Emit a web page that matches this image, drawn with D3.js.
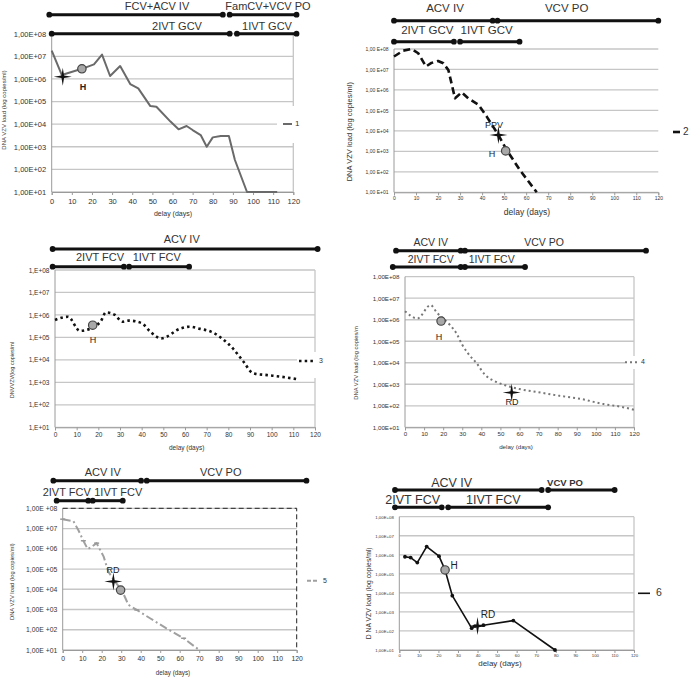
<!DOCTYPE html>
<html><head><meta charset="utf-8">
<script src="https://cdn.jsdelivr.net/npm/d3@7"></script>
<style>body{margin:0;background:#fff}svg{display:block}text{font-family:"Liberation Sans",Arial,sans-serif}</style>
</head><body>
<script>
// ---------- shared axis data ----------
const xTicks = [0,10,20,30,40,50,60,70,80,90,100,110,120];
const yTicks = [1e1,1e2,1e3,1e4,1e5,1e6,1e7,1e8];
const yLabelsA = ["1,00E+01","1,00E+02","1,00E+03","1,00E+04","1,00E+05","1,00E+06","1,00E+07","1,00E+08"];
const yLabelsB = ["1,00 E+01","1,00 E+02","1,00 E+03","1,00 E+04","1,00 E+05","1,00 E+06","1,00 E+07","1,00 E+08"];
const yLabelsC = ["1,E+01","1,E+02","1,E+03","1,E+04","1,E+05","1,E+06","1,E+07","1,E+08"];
const yLabelsD = ["1,00E +01","1,00E +02","1,00E +03","1,00E +04","1,00E +05","1,00E +06","1,00E +07","1,00E +08"];
const seriesNames = ["1","2","3","4","5","6"];

// ---------- patient 1 ----------
const p1Days = [0,5,15,21,25,29,34,39,43,49,52,59,63,67,70,74,77,80,84,88,91,97,112];
const p1Load = [1.8e7,1.5e6,2.8e6,4.4e6,1.2e7,1.35e6,3.7e6,5.9e5,3.8e5,6.3e4,5.9e4,1.3e4,5.9e3,8.3e3,5.5e3,3.3e3,1.0e3,2.6e3,3.0e3,3.0e3,2.6e2,10,10];
const p1Bars = [["FCV+ACV IV",0,-1.2,85],["FamCV+VCV PO",0,88.4,121.6],["2IVT GCV",1,0,88.4],["1IVT GCV",1,92,121.6]];
const p1Events = [["star",5.5,1.26e6,""],["circle",15,2.8e6,"H"]];

// ---------- patient 2 ----------
const p2Days = [0,4.2,8,11,14.5,17,20,22.4,24.7,27.7,30.7,33.7,38.3,42.1,47.4,51.1,57.2,64.8];
const p2Load = [4.3e7,8.3e7,1e8,6.2e7,1.4e7,2.1e7,2.6e7,2.0e7,9.3e6,3.9e5,7.6e5,3.9e5,1.9e5,5.0e4,6.3e3,1.2e3,1.2e2,10];
const p2Bars = [["ACV IV",0,0,44.8],["VCV PO",0,47,120],["2IVT GCV",1,0,27.2],["1IVT GCV",1,30,57]];
const p2Events = [["star",47.4,6.3e3,"PPV"],["circle",50.7,1.05e3,"H"]];

// ---------- patient 3 ----------
const p3Days = [0,6,11.5,14,21,23.5,27.7,31,34,40,44,49,58,62,67,72,77,82,87,91.5,98,104,111.5];
const p3Load = [6.0e5,8.3e5,1.95e5,2.1e5,5.0e5,1.3e6,1.0e6,5.0e5,5.6e5,4.3e5,1.8e5,9.1e4,2.5e5,3.0e5,2.4e5,1.8e5,9.1e4,3.3e4,8.3e3,2.5e3,2.1e3,1.8e3,1.4e3];
const p3Bars = [["ACV IV",0,-1.1,121.2],["2IVT FCV",1,-1.1,31.8],["1IVT FCV",1,34.2,61.9]];
const p3Events = [["circle",17.4,3.5e5,"H"]];

// ---------- patient 4 ----------
const p4Days = [0,6.5,13.4,16.6,23.6,27,30,33,37.6,42,47,53,60,71,81,92,104,113,120];
const p4Load = [2.5e6,1.15e6,4.8e6,2.2e6,5.6e5,2.3e5,6.8e4,2.75e4,9.3e3,2.7e3,1.4e3,8.7e2,6.0e2,4.1e2,2.9e2,2.1e2,1.2e2,91,65];
const p4Bars = [["ACV IV",0,-4.7,29.2],["VCV PO",0,31.4,126.3],["2IVT FCV",1,-6.4,29.2],["1IVT FCV",1,31.4,62.9]];
const p4Events = [["circle",18.9,8.7e5,"H"],["star",55.9,4.1e2,"RD"]];

// ---------- patient 5 ----------
const p5Days = [0,5.5,8,10.6,12.8,14.4,17.4,21,23.4,26.8,30.3,33.7,38,45,53,62,70];
const p5Load = [2.9e7,2.3e7,8.5e6,2.5e6,9.8e5,1.15e6,1.9e6,4.1e5,7.4e4,2.4e4,9.1e3,1.7e3,9.5e2,3.6e2,1.2e2,38,10];
const p5Bars = [["ACV IV",0,-4.8,40.2],["VCV PO",0,43.1,125],["2IVT FCV",1,-3.1,13.1],["1IVT FCV",1,15.4,30.8]];
const p5Events = [["star",26,2.4e4,"RD"],["circle",29.7,9.1e3,""]];

// ---------- patient 6 ----------
const p6Days = [2.9,5.8,9.2,14,20.3,23.4,27.1,37,38.7,43,58.3,79.6];
const p6Load = [7.9e5,7.1e5,3.9e5,2.7e6,8.5e5,1.6e5,7.1e3,1.4e2,1.8e2,2.0e2,3.5e2,10];
const p6Bars = [["ACV IV",0,-2.2,72.8],["VCV PO",0,76.1,110.1],["2IVT FCV",1,-2.2,21.7],["1IVT FCV",1,25,76.1]];
const p6Events = [["circle",23.4,1.6e5,"H"],["star",40,1.8e2,"RD"]];

// ---------- layout ----------
const W = 691, H = 678;
const svg = d3.select("body").append("svg").attr("width",W).attr("height",H);

const panels = [
 {days:p1Days, load:p1Load, bars:p1Bars, events:p1Events, name:seriesNames[0], ylab:yLabelsA,
  x0:51.7,x1:293.3,yTop:33.7,yBot:192, rowY:[14.7,33.7], barLabels:[[157,7.5],[268,6.8],[177,27],[267,27]], barFont:11,
  tickFont:7.5, xLabY:203.5, xTitle:[173,214.5,7], yTitle:"DNA VZV load (log copies/ml)", yTitlePos:[4,110,6],
  line:{stroke:"#6a6a6a",w:2,dash:null,curve:d3.curveLinear},
  legend:{rect:[277,106,22,37],lx:[283,292],ly:124,tx:295,font:8}, rightBorder:true,
  evLabels:{H:[83,88],"":[0,0]}},
 {days:p2Days, load:p2Load, bars:p2Bars, events:p2Events, name:seriesNames[1], ylab:yLabelsB,
  x0:394,x1:658.3,yTop:49,yBot:192.3, rowY:[20.7,41.7], barLabels:[[445,8.5],[566.7,8.5],[427.3,31],[486.7,31]], barFont:11.5,
  tickFont:5, xLabY:200, xTitle:[527,213,8.5], yTitle:"DNA VZV load (log copies/ml)", yTitlePos:[350,131.7,7.5],
  line:{stroke:"#111",w:2.6,dash:"7,4",curve:d3.curveLinear},
  legend:{rect:[668,125,22,14],lx:[673,681],ly:132,tx:683,font:10}, rightBorder:false,
  evLabels:{PPV:[494,126],H:[492,155]}},
 {days:p3Days, load:p3Load, bars:p3Bars, events:p3Events, name:seriesNames[2], ylab:yLabelsC,
  x0:55,x1:315,yTop:270,yBot:427.3, rowY:[249,266.7], barLabels:[[181.7,240],[100,258.5],[156.7,258.5]], barFont:11,
  tickFont:6.5, xLabY:437, xTitle:[186.7,448.5,6.5], yTitle:"DNVVZV(log copies/ml", yTitlePos:[12.7,370,5.5],
  line:{stroke:"#111",w:2.6,dash:"2.5,3.2",curve:d3.curveMonotoneX},
  legend:{rect:[297,352,32,26],lx:[299,315],ly:361,tx:319,font:7}, rightBorder:true,
  evLabels:{H:[93,341]}},
 {days:p4Days, load:p4Load, bars:p4Bars, events:p4Events, name:seriesNames[3], ylab:yLabelsA,
  x0:405,x1:634,yTop:276.7,yBot:427.3, rowY:[250.7,267], barLabels:[[430.7,243.5],[544,243.5],[430.7,260],[491.7,260]], barFont:10.5,
  tickFont:6.2, xLabY:436, xTitle:[516,447,6.2], yTitle:"DNA VZV load (log copies/m", yTitlePos:[356,363,5.8],
  line:{stroke:"#777",w:2,dash:"2,3",curve:d3.curveMonotoneX},
  legend:{rect:[625,356,28,13],lx:[625,637],ly:362.3,tx:641,font:7}, rightBorder:true,
  evLabels:{H:[439,338],RD:[512,403]}},
 {days:p5Days, load:p5Load, bars:p5Bars, events:p5Events, name:seriesNames[4], ylab:yLabelsD,
  x0:62.7,x1:296.7,yTop:508.3,yBot:650, rowY:[480.7,500.7], barLabels:[[102.7,473.5],[220.7,473.5],[66.7,493.5],[118.3,493.5]], barFont:11,
  tickFont:6.8, xLabY:660.5, xTitle:[173,673.5,6.3], yTitle:"DNA VZV load (log copies/ml)", yTitlePos:[12.7,581.7,5.8],
  line:{stroke:"#a0a0a0",w:2,dash:"8,3,2,3",curve:d3.curveLinear},
  legend:{rect:[303,574,28,14],lx:[307,318],ly:580.7,tx:323,font:7}, rightBorder:false, dashedFrame:true,
  evLabels:{RD:[113,571]}},
 {days:p6Days, load:p6Load, bars:p6Bars, events:p6Events, name:seriesNames[5], ylab:yLabelsA,
  x0:399.3,x1:634,yTop:516.7,yBot:650, rowY:[490,507.3], barLabels:[[451.7,483.5],[565,483.5],[412.7,500.5],[493.3,500.5]], barFont:12.5,
  tickFont:4.3, xLabY:656.5, xTitle:[500,664,8], yTitle:"D NA VZV load (log copies/ml)", yTitlePos:[369.3,593.3,6.8],
  line:{stroke:"#111",w:1.6,dash:null,curve:d3.curveLinear}, dots:true,
  legend:{rect:[636,586,30,15],lx:[638,650],ly:593.3,tx:656,font:10.5}, rightBorder:true,
  evLabels:{H:[454,566],RD:[488,615]}, boldVCV:true}
];

function starPath(cx, cy, R, r){
  const pts=[];
  for(let i=0;i<8;i++){
    const a = i*Math.PI/4 - Math.PI/2;
    const rad = (i%2===0)? R : r;
    pts.push([cx+rad*Math.cos(a), cy+rad*Math.sin(a)]);
  }
  return "M"+pts.map(p=>p.join(",")).join("L")+"Z";
}

panels.forEach(p=>{
  const g = svg.append("g");
  const x = d3.scaleLinear().domain([0,120]).range([p.x0,p.x1]);
  const y = d3.scaleLog().domain([1e1,1e8]).range([p.yBot,p.yTop]);

  // grid
  g.selectAll("line.grid").data(yTicks).enter().append("line")
    .attr("x1",p.x0).attr("x2",p.x1).attr("y1",d=>y(d)).attr("y2",d=>y(d))
    .attr("stroke","#c6c6c6").attr("stroke-width",1.3);
  // left axis
  g.append("line").attr("x1",p.x0).attr("x2",p.x0).attr("y1",p.yTop).attr("y2",p.yBot)
    .attr("stroke","#9a9a9a").attr("stroke-width",1);
  if(p.rightBorder){
    g.append("line").attr("x1",p.x1).attr("x2",p.x1).attr("y1",p.yTop).attr("y2",p.yBot)
      .attr("stroke","#c6c6c6").attr("stroke-width",1.3);
  }
  if(p.dashedFrame){
    g.append("path").attr("d",`M${p.x0},${p.yTop}H${p.x1}V${p.yBot}`).attr("fill","none")
      .attr("stroke","#222").attr("stroke-width",1).attr("stroke-dasharray","5,3");
  }
  // legend cover
  g.append("rect").attr("x",p.legend.rect[0]).attr("y",p.legend.rect[1]).attr("width",p.legend.rect[2]).attr("height",p.legend.rect[3]).attr("fill","#fff");

  // x axis
  const xa = g.append("g").attr("transform",`translate(0,${p.yBot})`)
    .call(d3.axisBottom(x).tickValues(xTicks).tickSize(3).tickPadding(p.xLabY-p.yBot-3-p.tickFont*0.7));
  xa.select(".domain").attr("stroke","#9a9a9a");
  xa.selectAll(".tick line").attr("stroke","#9a9a9a");
  xa.selectAll(".tick text").attr("font-size",p.tickFont).attr("fill","#333").attr("font-family","Liberation Sans, Arial, sans-serif");
  // y axis labels
  const ya = g.append("g").attr("transform",`translate(${p.x0},0)`)
    .call(d3.axisLeft(y).tickValues(yTicks).tickFormat((d,i)=>p.ylab[i]).tickSize(0).tickPadding(5.5));
  ya.select(".domain").remove();
  ya.selectAll(".tick text").attr("font-size",p.tickFont).attr("fill","#333").attr("font-family","Liberation Sans, Arial, sans-serif");

  // titles
  g.append("text").attr("x",p.xTitle[0]).attr("y",p.xTitle[1]).attr("text-anchor","middle")
    .attr("dominant-baseline","middle").attr("font-size",p.xTitle[2]).attr("fill","#333").text("delay (days)");
  g.append("text").attr("transform",`translate(${p.yTitlePos[0]},${p.yTitlePos[1]}) rotate(-90)`)
    .attr("text-anchor","middle").attr("dominant-baseline","middle").attr("font-size",p.yTitlePos[2]).attr("fill","#333").text(p.yTitle);

  // series line
  const pts = p.days.map((d,i)=>({day:d, load:p.load[i]}));
  const line = d3.line().x(d=>x(d.day)).y(d=>y(d.load)).curve(p.line.curve);
  g.append("path").datum(pts).attr("d",line).attr("fill","none")
    .attr("stroke",p.line.stroke).attr("stroke-width",p.line.w)
    .attr("stroke-dasharray",p.line.dash).attr("stroke-linejoin","round");
  if(p.dots){
    g.selectAll("circle.pt").data(pts).enter().append("circle")
      .attr("cx",d=>x(d.day)).attr("cy",d=>y(d.load)).attr("r",1.9).attr("fill","#111");
  }
  if(p.name==="5"){
    g.selectAll("line.mk").data(pts.filter((d,i)=>i%3===0)).enter().append("line")
      .attr("x1",d=>x(d.day)-2.5).attr("x2",d=>x(d.day)+2.5).attr("y1",d=>y(d.load)).attr("y2",d=>y(d.load))
      .attr("stroke","#999").attr("stroke-width",1.5);
  }

  // legend
  g.append("line").attr("x1",p.legend.lx[0]).attr("x2",p.legend.lx[1]).attr("y1",p.legend.ly).attr("y2",p.legend.ly)
    .attr("stroke",p.line.stroke).attr("stroke-width",p.line.w)
    .attr("stroke-dasharray",p.line.dash ? (p.name==="5" ? "4,2" : p.line.dash) : null);
  g.append("text").attr("x",p.legend.tx).attr("y",p.legend.ly).attr("dominant-baseline","middle")
    .attr("font-size",p.legend.font).attr("fill","#333").text(p.name);

  // events
  p.events.forEach(e=>{
    const ex = x(e[1]), ey = y(e[2]);
    if(e[0]==="star"){
      g.append("path").attr("d",starPath(ex,ey,9,1.8)).attr("fill","#111");
    } else {
      g.append("circle").attr("cx",ex).attr("cy",ey).attr("r",4.2).attr("fill","#a8a8a8").attr("stroke","#444").attr("stroke-width",1.2);
    }
    if(e[3] && p.evLabels[e[3]]){
      g.append("text").attr("x",p.evLabels[e[3]][0]).attr("y",p.evLabels[e[3]][1])
        .attr("text-anchor","middle").attr("dominant-baseline","middle")
        .attr("font-size",p.name==="6"?10:9).attr("font-weight",p.name==="1"?"bold":"normal").attr("fill","#222").text(e[3]);
    }
  });

  // treatment bars
  p.bars.forEach((b,i)=>{
    const by = p.rowY[b[1]];
    g.append("line").attr("x1",x(b[2])).attr("x2",x(b[3])).attr("y1",by).attr("y2",by)
      .attr("stroke","#111").attr("stroke-width",3);
    [b[2],b[3]].forEach(v=>g.append("circle").attr("cx",x(v)).attr("cy",by).attr("r",2.9).attr("fill","#111"));
    const bl = p.barLabels[i];
    const bold = p.boldVCV && b[0]==="VCV PO";
    g.append("text").attr("x",bl[0]).attr("y",bl[1]).attr("text-anchor","middle").attr("dominant-baseline","middle")
      .attr("font-size",bold?9.5:p.barFont).attr("font-weight",bold?"bold":"normal").attr("fill","#333").text(b[0]);
  });
});
</script>
</body></html>
